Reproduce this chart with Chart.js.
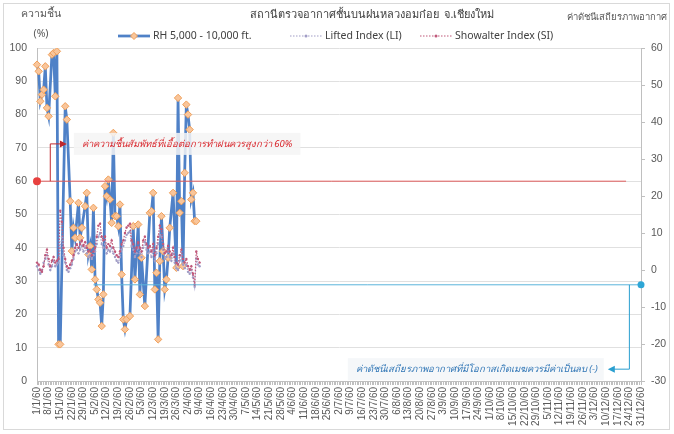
<!DOCTYPE html>
<html>
<head>
<meta charset="utf-8">
<script src="https://cdn.jsdelivr.net/npm/chart.js@4"></script>
<style>
  html, body { margin: 0; padding: 0; background: #fff; }
</style>
</head>
<body>
<canvas id="myChart" width="674" height="434"></canvas>
<script>
// RH readings: day offset from 1/1/60 and value (%)
const rhDays = [0, 1, 2, 3, 4, 5, 6, 7, 9, 10, 11, 12, 13, 14, 17, 18, 20, 21, 22, 23, 25, 26, 27, 29, 30,
  31, 32, 33, 34, 35, 36, 37, 38, 39, 40, 41, 42, 43, 44, 45, 46, 47, 48, 49, 50, 51, 52, 53, 54, 56,
  58, 59, 61, 62, 63, 65, 68, 69, 70, 71, 72, 73, 74, 75, 76, 77, 78, 79, 80, 82, 84, 85, 86, 87, 88,
  89, 90, 91, 92, 93, 94, 95, 96];
const rhValues = [95, 93, 84, 86, 87.5, 94.5, 82, 79.5, 98, 98.5, 85.5, 99, 11, 11, 82.5, 78.5, 54, 39, 46, 43, 53.5, 43, 46, 52.5, 56.5,
  38, 40.5, 33.5, 52, 30.5, 27.5, 24.5, 23.5, 16.5, 26, 58.5, 55.5, 60.5, 54.5, 47.5, 74.5, 49.5, 49.5, 46.5, 53, 32, 18.5, 15.5, 18.5, 19.5,
  46.5, 30.5, 47, 26, 37, 22.5, 50.5, 51, 56.5, 27.5, 32.5, 12.5, 36, 49.5, 39, 27.5, 30.5, 37, 46, 56.5, 34, 85, 50.5, 54, 34.5,
  62.5, 83, 80, 75.5, 54.5, 56.5, 48, 48];

// daily stability indices from 1/1/60
const liValues = [1, 0, -1, 0, 2, 3, 4, 1.5, 0, 1, 2.5, 1, 1.5, 2, 6, 9, 4, 2, 0, -0.5,
  0.5, 1.5, 3, 5, 5.5, 4.5, 5.5, 6.5, 5, 6, 4.5, 3.5, 4, 3, 4, 5, 7, 9, 10, 7,
  6, 7, 4.5, 5.5, 5, 6, 4.5, 3.5, 2.5, 2, 3.5, 5.5, 6.5, 8, 9.5, 10, 10.5, 6.5, 5.5, 3.5,
  4.5, 6, 4.5, 3.5, 6, 7.5, 5.5, 4.5, 5, 3.5, 5.5, 2.5, 4.5, 7, 9.5, 9, 5.5, 3, 3.5, 5,
  3.5, 2.5, 4.5, 2, 0.5, 0, 2.5, 4, 1.5, 0.5, 1.5, -0.5, -1, 0, -2, -4.5, 3, 1.5, 1];
const siValues = [2, 1.5, 0, -0.5, 1, 4, 5.5, 3, 1, 2.5, 3.5, 2, 2.5, 3, 16, 13, 6, 3, 1, 0.5,
  1.5, 2.5, 4, 6, 7, 6, 7, 8, 6.5, 7.5, 6, 5, 5.5, 4, 5, 6, 9, 12, 12.5, 9,
  8, 9, 6, 7, 6.5, 8, 6, 5, 4, 3.5, 5, 7, 8, 10, 11.5, 12, 12.5, 8, 7, 5,
  6, 7.5, 6, 5, 8, 9, 7, 6, 6.5, 5, 7, 4, 6, 9, 12, 11, 7, 4.5, 5, 6.5,
  5, 4, 6, 3.5, 2, 1.5, 4, 5.5, 3, 2, 3, 1, 0, 1, -1, -4, 5, 3, 2];

const rhGuide = 60;      // %
const indexGuide = -4;   // index value
const leftTicks = { min: 0, max: 100, step: 10 };
const rightTicks = { min: -30, max: 60, step: 10 };

// one category per day of year 2560
const labels = [];
for (let d = 0; d < 365; d++) {
  const dt = new Date(2017, 0, 1 + d);
  labels.push(dt.getDate() + '/' + (dt.getMonth() + 1) + '/60');
}

const rhSeries = labels.map(() => null);
rhDays.forEach((d, i) => { rhSeries[d] = rhValues[i]; });
const liSeries = labels.map((_, i) => i < liValues.length ? liValues[i] : null);
const siSeries = labels.map((_, i) => i < siValues.length ? siValues[i] : null);

const FONT = "'Noto Sans', 'DejaVu Sans', sans-serif";
const TICK_FONT = "'Liberation Sans', 'Noto Sans', sans-serif";
const RH_LINE = '#4f81c7', RH_FILL = '#f9c59a', RH_EDGE = '#f0a05a';
const LI_COLOR = '#a19dc6', SI_COLOR = '#c0587a';

function arrowHead(c, x, y, dir, color) {
  c.fillStyle = color;
  c.beginPath();
  c.moveTo(x, y);
  c.lineTo(x - dir * 7, y - 3.5);
  c.lineTo(x - dir * 7, y + 3.5);
  c.closePath();
  c.fill();
}

const guidePlugin = {
  id: 'guides',
  beforeDraw(chart) {
    const c = chart.ctx;
    c.save();
    c.fillStyle = '#fff';
    c.fillRect(0, 0, chart.width, chart.height);
    c.strokeStyle = '#d9d9d9';
    c.lineWidth = 1;
    c.strokeRect(3.5, 3.5, 666, 426);
    c.restore();
  },
  afterDatasetsDraw(chart) {
    const c = chart.ctx;
    const x = chart.scales.x, y = chart.scales.y, y2 = chart.scales.y2;
    c.save();

    // RH 60% guide
    const ry = y.getPixelForValue(rhGuide);
    c.strokeStyle = '#e05a5a';
    c.lineWidth = 1;
    c.beginPath();
    c.moveTo(x.getPixelForValue(0), ry);
    c.lineTo(x.getPixelForValue(355), ry);
    c.stroke();
    // elbow arrow up to the note
    const ax = x.getPixelForValue(8), ay = y.getPixelForValue(71.2), tip = x.getPixelForValue(18);
    c.strokeStyle = '#c0282d';
    c.beginPath();
    c.moveTo(ax, ry);
    c.lineTo(ax, ay);
    c.lineTo(tip - 5, ay);
    c.stroke();
    arrowHead(c, tip, ay, 1, '#c0282d');
    c.fillStyle = '#e8413f';
    c.beginPath();
    c.arc(x.getPixelForValue(0), ry, 4, 0, Math.PI * 2);
    c.fill();
    // red note
    c.font = 'italic 9.5px ' + FONT;
    const redText = 'ค่าความชื้นสัมพัทธ์ที่เอื้อต่อการทำฝนควรสูงกว่า 60%';
    const rw = c.measureText(redText).width;
    c.fillStyle = 'rgba(244,244,244,0.85)';
    c.fillRect(tip + 7, ay - 11, rw + 16, 22);
    c.fillStyle = '#d8262c';
    c.textBaseline = 'middle';
    c.textAlign = 'left';
    c.fillText(redText, tip + 15, ay);

    // index guide
    const by = y2.getPixelForValue(indexGuide);
    c.strokeStyle = '#5bb5dc';
    c.beginPath();
    c.moveTo(x.getPixelForValue(34), by);
    c.lineTo(x.getPixelForValue(364), by);
    c.stroke();
    const bx = x.getPixelForValue(357), bby = y2.getPixelForValue(-26.8), btip = x.getPixelForValue(344);
    c.strokeStyle = '#2a9fd0';
    c.beginPath();
    c.moveTo(bx, by);
    c.lineTo(bx, bby);
    c.lineTo(btip + 5, bby);
    c.stroke();
    arrowHead(c, btip, bby, -1, '#2a9fd0');
    c.fillStyle = '#2ea6d6';
    c.beginPath();
    c.arc(x.getPixelForValue(364), by, 3.5, 0, Math.PI * 2);
    c.fill();
    const blueText = 'ค่าดัชนีเสถียรภาพอากาศที่มีโอกาสเกิดเมฆควรมีค่าเป็นลบ (-)';
    const bw = c.measureText(blueText).width;
    c.fillStyle = 'rgba(244,246,248,0.9)';
    c.fillRect(btip - 8 - bw - 10, bby - 11, bw + 14, 22);
    c.fillStyle = '#2f75b5';
    c.textAlign = 'right';
    c.fillText(blueText, btip - 10, bby);
    c.restore();
  },
  afterDraw(chart) {
    const c = chart.ctx;
    c.save();
    c.textBaseline = 'middle';
    c.fillStyle = '#595959';
    c.font = '10.5px ' + FONT;
    c.textAlign = 'center';
    c.fillText('ความชื้น', 41, 14);
    c.fillText('(%)', 41, 34);
    c.textAlign = 'right';
    c.font = '9.5px ' + FONT;
    c.fillText('ค่าดัชนีเสถียรภาพอากาศ', 667, 17);
    c.textAlign = 'center';
    c.fillStyle = '#404040';
    c.font = '11px ' + FONT;
    c.fillText('สถานีตรวจอากาศชั้นบนฝนหลวงอมก๋อย  จ.เชียงใหม่', 372, 15);

    // legend
    const ly = 36;
    const items = [
      { x: 118, ds: chart.data.datasets[0] },
      { x: 290, ds: chart.data.datasets[1] },
      { x: 420, ds: chart.data.datasets[2] }
    ];
    c.font = '10.5px ' + FONT;
    c.textAlign = 'left';
    items.forEach(it => {
      const ds = it.ds;
      c.strokeStyle = ds.borderColor;
      c.lineWidth = ds.borderWidth;
      c.setLineDash(ds.borderDash || []);
      c.beginPath();
      c.moveTo(it.x, ly);
      c.lineTo(it.x + 32, ly);
      c.stroke();
      c.setLineDash([]);
      const mx = it.x + 16;
      if (ds.pointStyle === 'rectRot') {
        c.fillStyle = ds.pointBackgroundColor;
        c.strokeStyle = ds.pointBorderColor;
        c.lineWidth = 1;
        c.beginPath();
        c.moveTo(mx, ly - 3.5); c.lineTo(mx + 3.5, ly); c.lineTo(mx, ly + 3.5); c.lineTo(mx - 3.5, ly);
        c.closePath();
        c.fill(); c.stroke();
      } else {
        c.fillStyle = ds.pointBackgroundColor;
        c.beginPath();
        c.arc(mx, ly, 1.5, 0, Math.PI * 2);
        c.fill();
      }
      c.fillStyle = '#404040';
      c.fillText(ds.label, it.x + 35, ly);
    });
    c.restore();
  }
};

const ctx = document.getElementById('myChart').getContext('2d');
const myChart = new Chart(ctx, {
  type: 'line',
  data: {
    labels: labels,
    datasets: [{
      label: 'RH 5,000 - 10,000 ft.',
      data: rhSeries,
      yAxisID: 'y',
      borderColor: RH_LINE,
      borderWidth: 2.75,
      pointStyle: 'rectRot',
      pointRadius: 3.7,
      pointBackgroundColor: RH_FILL,
      pointBorderColor: RH_EDGE,
      pointBorderWidth: 1,
      spanGaps: true,
      tension: 0,
      order: 3
    }, {
      label: 'Lifted Index (LI)',
      data: liSeries,
      yAxisID: 'y2',
      borderColor: LI_COLOR,
      borderWidth: 1.2,
      borderDash: [1.5, 1.5],
      pointRadius: 1.2,
      pointBackgroundColor: LI_COLOR,
      pointBorderWidth: 0,
      tension: 0,
      order: 2
    }, {
      label: 'Showalter Index (SI)',
      data: siSeries,
      yAxisID: 'y2',
      borderColor: SI_COLOR,
      borderWidth: 1.2,
      borderDash: [1.5, 1.5],
      pointRadius: 1.2,
      pointBackgroundColor: SI_COLOR,
      pointBorderWidth: 0,
      tension: 0,
      order: 1
    }]
  },
  options: {
    responsive: false,
    animation: false,
    layout: { padding: { top: 48, left: 0, right: 0, bottom: 0 } },
    plugins: {
      legend: { display: false },
      title: { display: false },
      tooltip: { enabled: false }
    },
    scales: {
      x: {
        grid: { drawOnChartArea: false, tickLength: 4, color: '#bfbfbf' },
        border: { color: '#bfbfbf' },
        ticks: {
          autoSkip: false,
          minRotation: 90,
          maxRotation: 90,
          padding: 2,
          color: '#595959',
          font: { family: TICK_FONT, size: 10 },
          callback: function (v, i) { return i % 7 === 0 ? this.getLabelForValue(v) : ''; }
        },
        afterFit: s => { s.height = 53; }
      },
      y: {
        position: 'left',
        min: leftTicks.min,
        max: leftTicks.max,
        ticks: { stepSize: leftTicks.step, color: '#595959', font: { family: TICK_FONT, size: 10.5 }, padding: 10 },
        grid: { color: '#e0e0e0', drawTicks: false },
        border: { color: '#bfbfbf' },
        afterFit: s => { s.width = 37; }
      },
      y2: {
        position: 'right',
        min: rightTicks.min,
        max: rightTicks.max,
        ticks: { stepSize: rightTicks.step, color: '#595959', font: { family: TICK_FONT, size: 10.5 }, padding: 6 },
        grid: { drawOnChartArea: false, tickLength: 4, color: '#bfbfbf' },
        border: { color: '#bfbfbf' },
        afterFit: s => { s.width = 33; }
      }
    }
  },
  plugins: [guidePlugin]
});
</script>
</body>
</html>
